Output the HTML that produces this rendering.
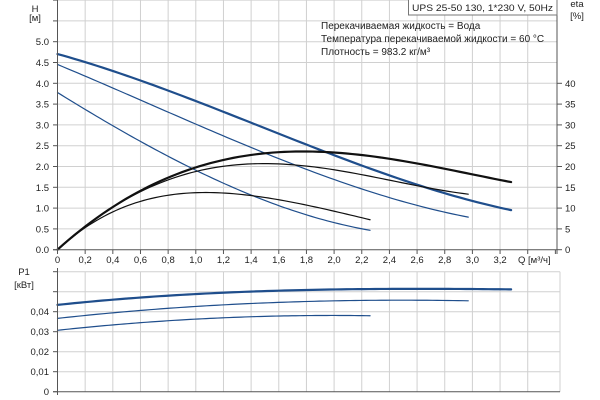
<!DOCTYPE html>
<html><head><meta charset="utf-8"><style>
html,body{margin:0;padding:0;background:#fff;}
svg{display:block;font-family:"Liberation Sans",sans-serif;}
</style></head><body>
<svg id="s" width="600" height="400" xmlns="http://www.w3.org/2000/svg">
<rect width="600" height="400" fill="#fff"/>
<g id="grid" stroke="#d0d0d0" stroke-width="1"></g>
<g id="curves" fill="none" stroke-linecap="round" stroke-linejoin="round"></g>
<g id="axes" stroke="#555" stroke-width="1"></g>
<g id="txt" font-size="9.5" fill="#222"></g>
<rect x="408.5" y="-1" width="148.5" height="16" fill="#fff" stroke="#777"/>
<text x="412" y="11" font-size="9.5" fill="#222" textLength="141" lengthAdjust="spacingAndGlyphs">UPS 25-50 130, 1*230 V, 50Hz</text>
<text x="321" y="29" font-size="10" fill="#222">Перекачиваемая жидкость = Вода</text>
<text x="321" y="42" font-size="10" fill="#222">Температура перекачиваемой жидкости = 60 °C</text>
<text x="321" y="55" font-size="10" fill="#222">Плотность = 983.2 кг/м³</text>
</svg>
<script>
const NS="http://www.w3.org/2000/svg";
function el(g,t,a,txt){const e=document.createElementNS(NS,t);for(const k in a)e.setAttribute(k,a[k]);if(txt!==undefined)e.textContent=txt;document.getElementById(g).appendChild(e);return e;}
const X=q=>57.5+138.3*q, Y=h=>249.7-41.6*h, YP=p=>391.7-2000*p;
for(let i=1;i<=17;i++){el('grid','line',{x1:X(i*0.2),x2:X(i*0.2),y1:0,y2:249.7});el('grid','line',{x1:X(i*0.2),x2:X(i*0.2),y1:271.7,y2:391.7});}
for(let i=1;i<=12;i++){el('grid','line',{x1:57.5,x2:557,y1:Y(i*0.5),y2:Y(i*0.5)});}
for(let i=1;i<=6;i++){el('grid','line',{x1:57.5,x2:560,y1:YP(i*0.01),y2:YP(i*0.01)});}
el('grid','line',{x1:560,x2:560,y1:271.7,y2:391.7});
el('axes','line',{x1:57.5,x2:57.5,y1:0,y2:254});
el('axes','line',{x1:53,x2:557,y1:249.7,y2:249.7});
el('axes','line',{x1:557,x2:557,y1:0,y2:254});
el('axes','line',{x1:57.5,x2:57.5,y1:268,y2:395});
el('axes','line',{x1:53,x2:560,y1:391.7,y2:391.7});
for(let i=0;i<=12;i++){el('axes','line',{x1:53,x2:57.5,y1:Y(i*0.5),y2:Y(i*0.5)});}
for(let i=0;i<=8;i++){el('axes','line',{x1:557,x2:562,y1:Y(i*0.5),y2:Y(i*0.5)});}
for(let i=0;i<=18;i++){el('axes','line',{x1:X(i*0.2),x2:X(i*0.2),y1:249.7,y2:254});}
for(let i=0;i<=6;i++){el('axes','line',{x1:53,x2:57.5,y1:YP(i*0.01),y2:YP(i*0.01)});}
for(let i=0;i<=10;i++){el('txt','text',{x:49,y:Y(i*0.5)+3.5,'text-anchor':'end'},(i*0.5).toFixed(1));}
for(let i=0;i<=8;i++){el('txt','text',{x:565,y:Y(i*0.5)+3.5},String(i*5));}
for(let i=0;i<=16;i++){el('txt','text',{x:X(i*0.2),y:263,'text-anchor':'middle'},i==0?'0':(i*0.2).toFixed(1).replace('.',','));}
el('txt','text',{x:518,y:263},'Q [м³/ч]');
el('txt','text',{x:35,y:12,'text-anchor':'middle'},'H');
el('txt','text',{x:35,y:21,'text-anchor':'middle'},'[м]');
el('txt','text',{x:577,y:7,'text-anchor':'middle'},'eta');
el('txt','text',{x:577,y:19,'text-anchor':'middle'},'[%]');
el('txt','text',{x:24,y:275,'text-anchor':'middle'},'P1');
el('txt','text',{x:24,y:288,'text-anchor':'middle'},'[кВт]');
['0','0,01','0,02','0,03','0,04'].forEach((t,i)=>el('txt','text',{x:49,y:YP(i*0.01)+3.5,'text-anchor':'end'},t));
function polyfit(pts,deg){
  const n=deg+1,A=[],b=[];
  for(let i=0;i<n;i++){A.push(new Array(n).fill(0));b.push(0);}
  pts.forEach(([x,y])=>{for(let i=0;i<n;i++){b[i]+=y*Math.pow(x,i);for(let j=0;j<n;j++)A[i][j]+=Math.pow(x,i+j);}});
  for(let i=0;i<n;i++){let m=i;for(let r=i+1;r<n;r++)if(Math.abs(A[r][i])>Math.abs(A[m][i]))m=r;[A[i],A[m]]=[A[m],A[i]];[b[i],b[m]]=[b[m],b[i]];
    for(let r=0;r<n;r++){if(r===i)continue;const f=A[r][i]/A[i][i];for(let c=i;c<n;c++)A[r][c]-=f*A[i][c];b[r]-=f*b[i];}}
  return b.map((v,i)=>v/A[i][i]);
}
function curve(pts,fy,col,w,deg){
  const c=polyfit(pts,deg), x0=pts[0][0], x1=pts[pts.length-1][0];
  let d='';
  for(let k=0;k<=80;k++){const q=x0+(x1-x0)*k/80;let h=0;c.forEach((v,i)=>h+=v*Math.pow(q,i));d+=(k?'L':'M')+X(q).toFixed(2)+','+fy(h).toFixed(2);}
  el('curves','path',{d:d,stroke:col,'stroke-width':w});
}
const B='#1f4e8c',K='#111';
curve([[0,4.7],[0.5,4.2],[1,3.55],[1.4,3.05],[1.8,2.55],[2.2,2.02],[2.6,1.55],[3,1.18],[3.28,0.95]],Y,B,2.2,3);
curve([[0,4.43],[0.5,3.8],[1,3.0],[1.4,2.42],[1.8,1.92],[2.2,1.5],[2.6,1.07],[2.97,0.77]],Y,B,1.2,3);
curve([[0,3.77],[0.4,3.0],[0.7,2.42],[1,1.9],[1.4,1.3],[1.76,0.88],[2.0,0.68],[2.26,0.45]],Y,B,1.2,3);
curve([[0,0],[0.2,0.55],[0.4,1.05],[0.8,1.72],[1.0,1.97],[1.4,2.28],[1.8,2.37],[2.2,2.27],[2.6,2.08],[3.0,1.8],[3.28,1.63]],Y,K,2.2,4);
curve([[0,0],[0.2,0.54],[0.4,1.0],[0.8,1.7],[1.0,1.9],[1.4,2.04],[1.8,2.01],[2.2,1.8],[2.6,1.55],[2.97,1.33]],Y,K,1.2,4);
curve([[0,0],[0.2,0.52],[0.4,0.92],[0.8,1.3],[1.05,1.38],[1.4,1.3],[1.76,1.1],[2.26,0.72]],Y,K,1.2,4);
curve([[0,0.0435],[0.6,0.0468],[1.2,0.0497],[1.8,0.051],[2.4,0.0512],[3.28,0.0512]],YP,B,2.2,3);
curve([[0,0.0367],[0.6,0.0405],[1.2,0.0435],[1.8,0.0452],[2.4,0.0456],[2.97,0.0455]],YP,B,1.2,3);
curve([[0,0.0307],[0.6,0.0345],[1.2,0.037],[1.8,0.038],[2.26,0.038]],YP,B,1.2,2);
</script>
</body></html>
